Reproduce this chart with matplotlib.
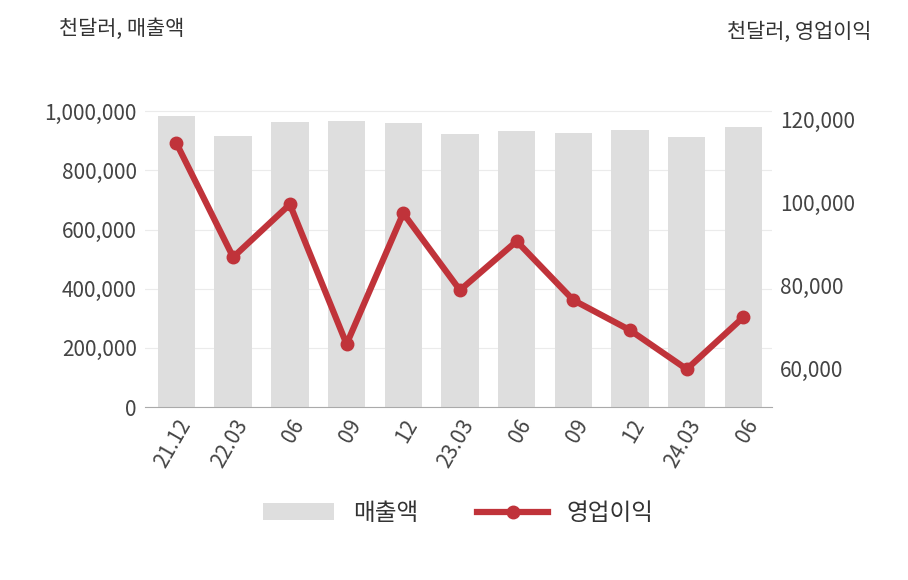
import matplotlib.pyplot as plt
import numpy as np

plt.rcParams['font.family'] = ['Noto Sans CJK KR', 'DejaVu Sans']

labels = ['21.12', '22.03', '06', '09', '12', '23.03', '06', '09', '12', '24.03', '06']
sales = [983000, 915000, 963000, 966000, 959000, 922000, 932000, 926000, 936000, 912000, 946000]
profit = [114200, 86750, 99500, 65800, 97350, 78800, 90600, 76400, 69150, 59750, 72300]

fig = plt.figure(figsize=(9.08, 5.8), dpi=100)
ax = fig.add_axes([0.16, 0.298, 0.69, 0.536])
x = np.arange(len(labels))

ax.bar(x, sales, width=0.66, color='#dedede', label='매출액', zorder=2)
ax.set_ylim(0, 1050000)
ax.set_yticks(range(0, 1000001, 200000))
ax.set_yticklabels([f'{v:,}' for v in range(0, 1000001, 200000)])
ax.grid(axis='y', color='#ebebeb', linewidth=0.8, zorder=0)
ax.set_xlim(-0.55, len(labels) - 0.5)
ax.set_xticks(x)
ax.set_xticklabels(labels, rotation=60, ha='right', rotation_mode='anchor')

ax2 = ax.twinx()
ax2.plot(x, profit, color='#c0333a', linewidth=4.5, marker='o', markersize=9, label='영업이익', zorder=3)
ax2.set_ylim(50600, 125540)
ax2.set_yticks([60000, 80000, 100000, 120000])
ax2.set_yticklabels(['60,000', '80,000', '100,000', '120,000'])

for a in (ax, ax2):
    for s in ('top', 'left', 'right'):
        a.spines[s].set_visible(False)
    a.tick_params(length=0, labelsize=15, colors='#444444', pad=6)
ax.spines['bottom'].set_color('#aaaaaa')
ax2.spines['bottom'].set_visible(False)

fig.text(0.065, 0.95, '천달러, 매출액', fontsize=15, color='#333333', ha='left', va='center')
fig.text(0.96, 0.945, '천달러, 영업이익', fontsize=15, color='#333333', ha='right', va='center')

h1, l1 = ax.get_legend_handles_labels()
h2, l2 = ax2.get_legend_handles_labels()
fig.legend(h1 + h2, l1 + l2, loc='center', bbox_to_anchor=(0.505, 0.115), ncol=2,
           frameon=False, fontsize=17, handlelength=3, columnspacing=2.5,
           labelcolor='#333333')

fig.savefig('out.png', dpi=100)
